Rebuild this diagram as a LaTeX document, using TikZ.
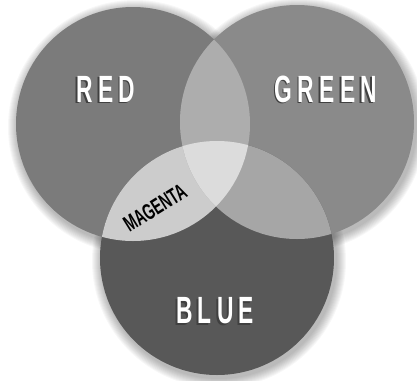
\documentclass[tikz,border=0pt]{standalone}
\usepackage{fontspec}
\newfontfamily\vennfont[FakeStretch=0.6,LetterSpace=14]{Liberation Sans}
\newfontfamily\smallvennfont[FakeStretch=0.62]{Liberation Sans}

\definecolor{redfill}{HTML}{7B7B7B}
\definecolor{greenfill}{HTML}{8A8A8A}
\definecolor{bluefill}{HTML}{585858}
\definecolor{rgfill}{HTML}{ADADAD}
\definecolor{rbfill}{HTML}{CCCCCC}
\definecolor{gbfill}{HTML}{A6A6A6}
\definecolor{allfill}{HTML}{DCDCDC}

\begin{document}
\begin{tikzpicture}[
  x = 0.25mm, y = -0.25mm,
  word/.style   = {font=\vennfont\bfseries\fontsize{27}{27}\selectfont,
                   text=white, inner sep=0pt},
  echo/.style   = {word, text=black!75, xshift=-0.45mm, yshift=-0.45mm},
  mix/.style    = {font=\smallvennfont\bfseries\fontsize{16}{16}\selectfont,
                   text=black, inner sep=0pt},
]

\def\radius{117}
\useasboundingbox (0,0) rectangle (417,380);

\coordinate (red)   at (133,124);
\coordinate (green) at (297,122);
\coordinate (blue)  at (217,258);

% soft shadow round the discs
\foreach \k in {1,...,10}{%
  \foreach \c in {red, green, blue}{%
    \fill[black, opacity=0.03] ([shift={(2,3)}]\c) circle[radius=\radius+\k];
  }
}

\fill[redfill]   (red)   circle[radius=\radius];
\fill[greenfill] (green) circle[radius=\radius];
\fill[bluefill]  (blue)  circle[radius=\radius];

% overlaps
\begin{scope}
  \clip (red) circle[radius=\radius];
  \fill[rgfill] (green) circle[radius=\radius];
  \fill[rbfill] (blue)  circle[radius=\radius];
\end{scope}
\begin{scope}
  \clip (green) circle[radius=\radius];
  \fill[gbfill] (blue) circle[radius=\radius];
\end{scope}
\begin{scope}
  \clip (red)   circle[radius=\radius];
  \clip (green) circle[radius=\radius];
  \fill[allfill] (blue) circle[radius=\radius];
\end{scope}

\coordinate (redtext)   at (106,89);
\coordinate (greentext) at (326,89);
\coordinate (bluetext)  at (215,311);

\foreach \c/\label in {redtext/RED, greentext/GREEN, bluetext/BLUE}{%
  \node[echo] at (\c) {\label};
  \node[word] (\c-label) at (\c) {\label};
}

\node[mix, rotate=32] (magenta) at (155,208) {MAGENTA};

\end{tikzpicture}
\end{document}
